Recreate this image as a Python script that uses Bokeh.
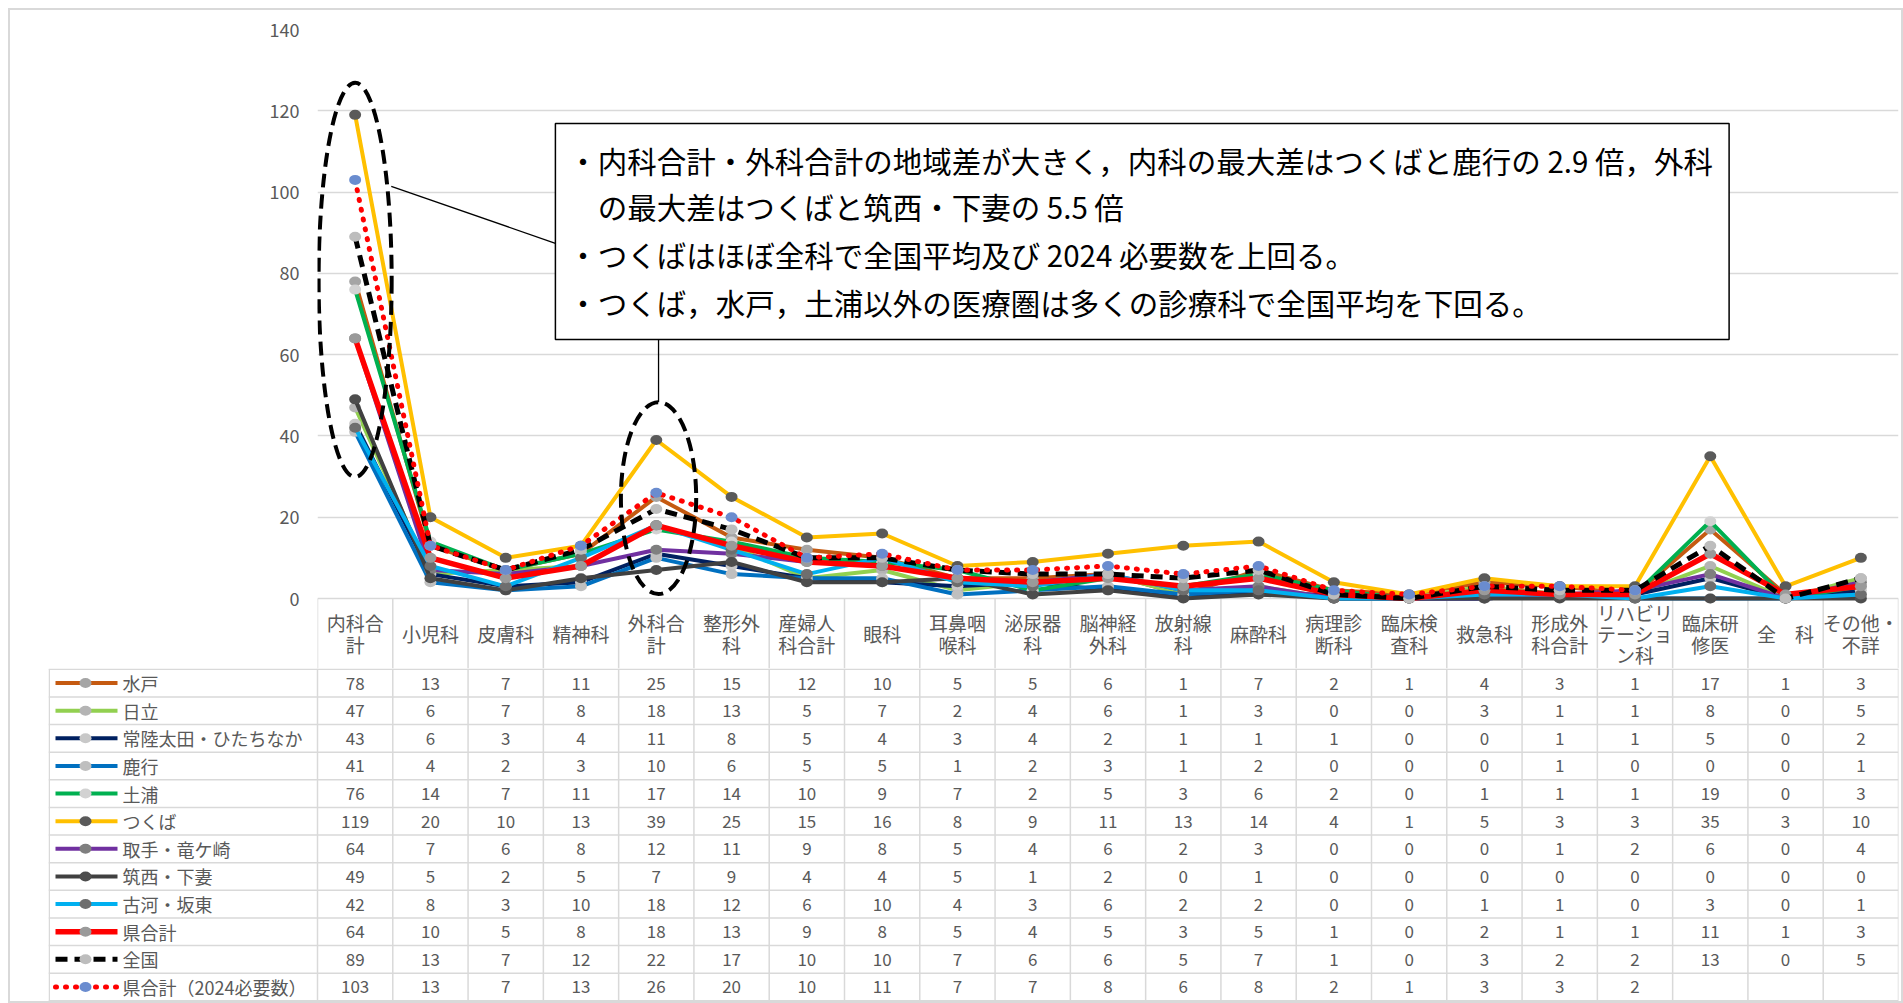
import numpy as np
from bokeh.plotting import figure
from bokeh.layouts import column
from bokeh.models import Range1d, FixedTicker
from bokeh.core.properties import value
from bokeh.embed import file_html
from bokeh.resources import INLINE

# ---------------- data ----------------
categories = ["内科合計", "小児科", "皮膚科", "精神科", "外科合計", "整形外科", "産婦人科合計",
              "眼科", "耳鼻咽喉科", "泌尿器科", "脳神経外科", "放射線科", "麻酔科", "病理診断科",
              "臨床検査科", "救急科", "形成外科合計", "リハビリテーション科", "臨床研修医", "全科",
              "その他・不詳"]
header_labels = ["内科合\n計", "小児科", "皮膚科", "精神科", "外科合\n計", "整形外\n科", "産婦人\n科合計",
                 "眼科", "耳鼻咽\n喉科", "泌尿器\n科", "脳神経\n外科", "放射線\n科", "麻酔科", "病理診\n断科",
                 "臨床検\n査科", "救急科", "形成外\n科合計", "リハビリ\nテーショ\nン科", "臨床研\n修医", "全　科",
                 "その他・\n不詳"]

series_names = ["水戸", "日立", "常陸太田・ひたちなか", "鹿行", "土浦", "つくば", "取手・竜ケ崎",
                "筑西・下妻", "古河・坂東", "県合計", "全国", "県合計（2024必要数）"]

mito       = [78, 13, 7, 11, 25, 15, 12, 10, 5, 5, 6, 1, 7, 2, 1, 4, 3, 1, 17, 1, 3]
hitachi    = [47, 6, 7, 8, 18, 13, 5, 7, 2, 4, 6, 1, 3, 0, 0, 3, 1, 1, 8, 0, 5]
hitachiota = [43, 6, 3, 4, 11, 8, 5, 4, 3, 4, 2, 1, 1, 1, 0, 0, 1, 1, 5, 0, 2]
rokko      = [41, 4, 2, 3, 10, 6, 5, 5, 1, 2, 3, 1, 2, 0, 0, 0, 1, 0, 0, 0, 1]
tsuchiura  = [76, 14, 7, 11, 17, 14, 10, 9, 7, 2, 5, 3, 6, 2, 0, 1, 1, 1, 19, 0, 3]
tsukuba    = [119, 20, 10, 13, 39, 25, 15, 16, 8, 9, 11, 13, 14, 4, 1, 5, 3, 3, 35, 3, 10]
toride     = [64, 7, 6, 8, 12, 11, 9, 8, 5, 4, 6, 2, 3, 0, 0, 0, 1, 2, 6, 0, 4]
chikusei   = [49, 5, 2, 5, 7, 9, 4, 4, 5, 1, 2, 0, 1, 0, 0, 0, 0, 0, 0, 0, 0]
koga       = [42, 8, 3, 10, 18, 12, 6, 10, 4, 3, 6, 2, 2, 0, 0, 1, 1, 0, 3, 0, 1]
ken        = [64, 10, 5, 8, 18, 13, 9, 8, 5, 4, 5, 3, 5, 1, 0, 2, 1, 1, 11, 1, 3]
zenkoku    = [89, 13, 7, 12, 22, 17, 10, 10, 7, 6, 6, 5, 7, 1, 0, 3, 2, 2, 13, 0, 5]
ken2024    = [103, 13, 7, 13, 26, 20, 10, 11, 7, 7, 8, 6, 8, 2, 1, 3, 3, 2, None, None, None]

series_values = [mito, hitachi, hitachiota, rokko, tsuchiura, tsukuba, toride,
                 chikusei, koga, ken, zenkoku, ken2024]

y_ticks = [0, 20, 40, 60, 80, 100, 120, 140]

note_lines = ["・内科合計・外科合計の地域差が大きく，内科の最大差はつくばと鹿行の 2.9 倍，外科",
              "　の最大差はつくばと筑西・下妻の 5.5 倍",
              "・つくばはほぼ全科で全国平均及び 2024 必要数を上回る。",
              "・つくば，水戸，土浦以外の医療圏は多くの診療科で全国平均を下回る。"]

# ---------------- styles ----------------
line_colors = ["#C55A11", "#92D050", "#002060", "#0070C0", "#00B050", "#FFC000", "#7030A0",
               "#404040", "#00B0F0", "#FF0000", "#000000", "#FF0000"]
marker_colors = ["#A5A5A5", "#B4B4B4", "#C8C8C8", "#BFBFBF", "#D2D2D2", "#5A5A5A", "#7F7F7F",
                 "#4D4D4D", "#6E6E6E", "#9A9A9A", "#BDBDBD", "#6A8CCF"]
line_widths = [4, 4, 4, 4, 4, 4, 4, 4, 4, 5.5, 5, 5]
line_dashes = ["solid"] * 10 + ["12 7", "1 9"]

FONT = "Noto Sans CJK JP"
GRAY = "#595959"
GRID = "#d9d9d9"

W = 1891
TOP_PAD = 19
CHART_H = 569
PX_PER_UNIT = CHART_H / 140
HDR = 70                      # header row height (px)
H_TOP = TOP_PAD + CHART_H + HDR
H_BOT = 991 - H_TOP
LEFT = 307
RIGHT = 3
LEG_LEFT = 38
ncat = len(categories)
col_px = (W - LEFT - RIGHT) / ncat
x_leg = -(LEFT - LEG_LEFT) / col_px
y_hdr = -HDR / PX_PER_UNIT

xs = np.arange(ncat) + 0.5

# ---------------- chart (with header row) ----------------
p = figure(width=W, height=H_TOP, x_range=Range1d(0, ncat), y_range=Range1d(y_hdr, 140),
           output_backend="svg", toolbar_location=None, frame_align=False,
           min_border_left=LEFT, min_border_right=RIGHT, min_border_top=TOP_PAD, min_border_bottom=0)
p.xaxis.visible = False
p.xgrid.visible = False
p.ygrid.grid_line_color = GRID
p.ygrid.grid_line_width = 1.5
p.yaxis.ticker = FixedTicker(ticks=y_ticks)
p.yaxis.axis_line_color = None
p.yaxis.major_tick_line_color = None
p.yaxis.minor_tick_line_color = None
p.yaxis.major_tick_out = 0
p.yaxis.major_tick_in = 0
p.yaxis.major_label_text_font = FONT
p.yaxis.major_label_text_font_size = "18px"
p.yaxis.major_label_text_color = GRAY
p.yaxis.major_label_standoff = 18
p.outline_line_color = None

# header cell borders and labels
p.segment(list(range(ncat + 1)), [0] * (ncat + 1), list(range(ncat + 1)), [y_hdr] * (ncat + 1),
          line_color=GRID, line_width=1.5)
p.text(xs, [y_hdr / 2] * ncat, text=header_labels, text_font=value(FONT), text_font_size="19px",
       text_color=GRAY, text_align="center", text_baseline="middle", text_line_height=0.79)

for vals, lc, mc, lw, ld in zip(series_values, line_colors, marker_colors, line_widths, line_dashes):
    ys = np.array([np.nan if v is None else v for v in vals], dtype=float)
    p.line(xs, ys, line_color=lc, line_width=lw, line_dash=ld, line_cap="round" if ld == "1 9" else "butt")
    ok = ~np.isnan(ys)
    p.ellipse(xs[ok], ys[ok], width=12, height=10, width_units="screen", height_units="screen",
              fill_color=mc, line_color=None)

# dashed highlight ellipses
p.ellipse([0.50, 4.53], [78.4, 24.7], width=[0.97, 1.0], height=[97, 47.2],
          fill_color=None, line_color="black", line_width=4, line_dash="14 7")

# connectors
p.segment([0.98, 4.53], [101.4, 63.7], [3.16, 4.53], [87.4, 48.3], line_color="black", line_width=1.3)

# note box
p.quad(left=3.16, right=18.75, bottom=63.7, top=116.9, fill_color="white",
       line_color="black", line_width=1.5)
p.text([3.33] * 4, [108.0, 96.5, 84.7, 72.9], text=note_lines, text_font=value(FONT),
       text_font_size="29.5px", text_color="black", text_align="left", text_baseline="middle")

# ---------------- table body with legend ----------------
q = figure(width=W, height=H_BOT, x_range=Range1d(x_leg, ncat), y_range=Range1d(H_BOT, 0),
           output_backend="svg", toolbar_location=None, frame_align=False,
           min_border_left=LEG_LEFT, min_border_right=RIGHT, min_border_top=0, min_border_bottom=0)
q.axis.visible = False
q.grid.visible = False
q.outline_line_color = None

nrow = len(series_names)
RH = (H_BOT - 1.5) / nrow
row_top = [0.75 + RH * i for i in range(nrow + 1)]
row_mid = [0.75 + RH * (i + 0.5) for i in range(nrow)]

q.segment([x_leg] * (nrow + 1), row_top, [ncat] * (nrow + 1), row_top, line_color=GRID, line_width=1.5)
q.segment(list(range(ncat + 1)), [0] * (ncat + 1), list(range(ncat + 1)), [row_top[-1]] * (ncat + 1),
          line_color=GRID, line_width=1.5)
q.segment([x_leg + 0.01], [row_top[0]], [x_leg + 0.01], [row_top[-1]], line_color=GRID, line_width=1.5)

vx, vy, vt = [], [], []
for i, vals in enumerate(series_values):
    for j, v in enumerate(vals):
        if v is not None:
            vx.append(j + 0.5)
            vy.append(row_mid[i])
            vt.append(str(v))
q.text(vx, vy, text=vt, text_font=value(FONT), text_font_size="17px", text_color=GRAY,
       text_align="center", text_baseline="middle")

lx0 = x_leg + 7 / col_px
lx1 = x_leg + 69 / col_px
lxm = x_leg + 37 / col_px
for i, (lc, mc, lw, ld) in enumerate(zip(line_colors, marker_colors, line_widths, line_dashes)):
    q.line([lx0, lx1], [row_mid[i]] * 2, line_color=lc, line_width=lw, line_dash=ld,
           line_cap="round" if ld == "1 9" else "butt")
    q.ellipse([lxm], [row_mid[i]], width=12, height=10, width_units="screen", height_units="screen",
              fill_color=mc, line_color=None)
q.text([x_leg + 74 / col_px] * nrow, row_mid, text=series_names, text_font=value(FONT),
       text_font_size="18px", text_color=GRAY, text_align="left", text_baseline="middle")

layout = column(p, q, spacing=0, margin=(8, 0, 0, 8), styles={"border": "2px solid #d9d9d9"})

open("out.html", "w").write(file_html(layout, INLINE))
